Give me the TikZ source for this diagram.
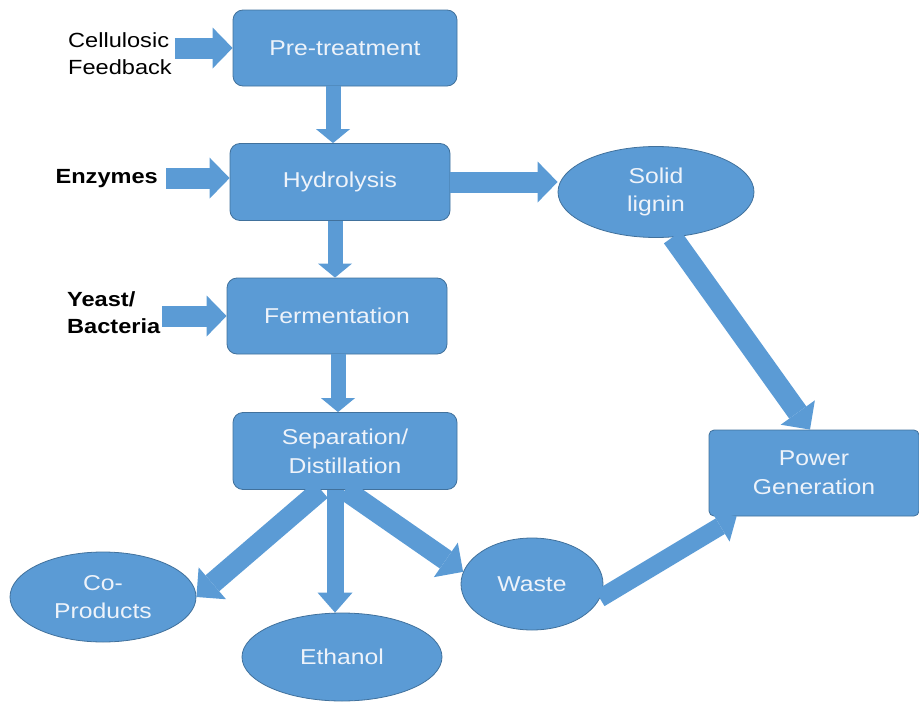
\documentclass[tikz,border=0pt]{standalone}
\usepackage{fontspec}
\setmainfont{Liberation Sans}[FakeStretch=1.15]
\usetikzlibrary{arrows.meta,shapes.geometric}
\definecolor{fillb}{HTML}{5B9BD5}
\definecolor{edgeb}{HTML}{41719C}
\definecolor{txtw}{HTML}{EEF3FA}
\begin{document}
\begin{tikzpicture}[x=1pt,y=-1pt,
  box/.style={rectangle, rounded corners=10pt, fill=fillb, draw=edgeb, line width=0.8pt,
    text=txtw, font=\fontsize{21.5}{29}\selectfont, align=center, inner sep=0pt},
  oval/.style={ellipse, fill=fillb, draw=edgeb, line width=0.8pt,
    text=txtw, font=\fontsize{21.5}{28}\selectfont, align=center, inner sep=0pt},
  lab/.style={font=\fontsize{20.5}{27}\selectfont, align=left, inner sep=0pt, text=black},
  labb/.style={lab, font=\fontsize{20.5}{27}\selectfont\bfseries},
  harr/.style={draw=fillb, line width=21pt, -{Triangle[width=41pt,length=20pt,line width=0pt]}},
  varr/.style={draw=fillb, line width=15pt, -{Triangle[width=34pt,length=14pt,line width=0pt]}},
  earr/.style={draw=fillb, line width=17pt, -{Triangle[width=35pt,length=20pt,line width=0pt]}},
  darr/.style={draw=fillb, line width=21pt, -{Triangle[width=42pt,length=21pt,line width=0pt]}},
  warr/.style={draw=fillb, line width=18pt, -{Triangle[width=36pt,length=19pt,line width=0pt]}}
]
\useasboundingbox (0,0) rectangle (919,704);

% process boxes
\node[box, minimum width=224pt, minimum height=76pt] (pre) at (345,48) {Pre-treatment};
\node[box, minimum width=220pt, minimum height=77pt] (hyd) at (340,182) {Hydrolysis};
\node[box, minimum width=220pt, minimum height=76pt] (fer) at (337,316) {Fermentation};
\node[box, minimum width=224pt, minimum height=77pt] (sep) at (345,451) {Separation/\\Distillation};
\node[box, rounded corners=5pt, minimum width=210pt, minimum height=86pt] (pow) at (814,473) {Power\\Generation};

% ellipses
\node[oval, minimum width=196pt, minimum height=91pt] (lig) at (656,192) {Solid\\lignin};
\node[oval, minimum width=186pt, minimum height=90pt] (co) at (103,597) {Co-\\Products};
\node[oval, minimum width=200pt, minimum height=88pt] (eth) at (342,657) {Ethanol};
\node[oval, minimum width=142pt, minimum height=92pt] (waste) at (532,584) {Waste};

% input labels
\node[lab, anchor=west] (cel) at (68,54) {Cellulosic\\Feedback};
\node[labb, anchor=base east] (enz) at (158,183) {Enzymes};
\node[labb, anchor=west] (yb) at (67,313) {Yeast/\\Bacteria};

% input arrows
\draw[harr, shorten <=3pt] (cel.east |- pre.west) -- (pre.west);
\draw[harr, shorten <=8pt] (enz.east) -- (enz.east -| hyd.west);
\draw[harr, shorten <=2pt] (yb.east |- fer.west) -- (fer.west);

% main chain
\draw[varr] ([xshift=-12pt]pre.south) -- ([xshift=-7pt]hyd.north);
\draw[varr] ([xshift=-5pt]hyd.south) -- ([xshift=-2pt]fer.north);
\draw[varr] ([xshift=1pt]fer.south) -- ([xshift=-7pt]sep.north);

% side streams
\draw[harr] (hyd.east) -- (hyd.east -| lig.west);
\draw[darr] (lig.-70) -- ([xshift=-4pt]pow.north);
\draw[darr] ([xshift=-24pt]sep.south) -- (co.east);
\draw[earr] ([xshift=-10pt]sep.south) -- ([xshift=-7pt]eth.north);
\draw[darr] ([xshift=0pt]sep.south) -- (waste.170);
\draw[warr] (waste.-12) -- ([xshift=28pt]pow.south west);
\end{tikzpicture}
\end{document}
